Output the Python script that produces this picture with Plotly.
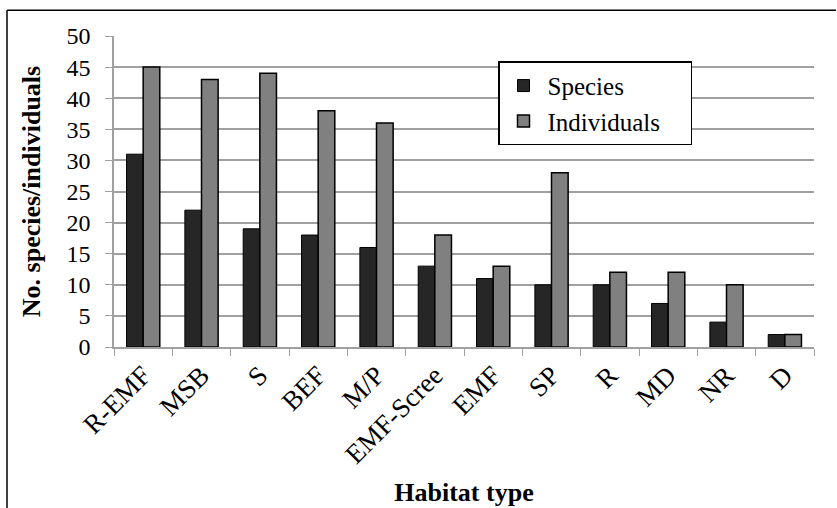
import plotly.graph_objects as go

habitats = ["R-EMF", "MSB", "S", "BEF", "M/P", "EMF-Scree", "EMF", "SP", "R", "MD", "NR", "D"]
species = [31, 22, 19, 18, 16, 13, 11, 10, 10, 7, 4, 2]
individuals = [45, 43, 44, 38, 36, 18, 13, 28, 12, 12, 10, 2]
y_ticks = [0, 5, 10, 15, 20, 25, 30, 35, 40, 45, 50]

W, H = 837, 508
L, R, T, B = 114, 23, 36, 161
pw, ph = W - L - R, H - T - B

fig = go.Figure()
fig.add_trace(go.Bar(x=habitats, y=species, name="Species",
                     marker=dict(color="#262626", line=dict(color="#000000", width=1))))
fig.add_trace(go.Bar(x=habitats, y=individuals, name="Individuals\u00a0\u00a0\u00a0\u00a0",
                     marker=dict(color="#808080", line=dict(color="#000000", width=1.5))))

font = "Liberation Serif, Times New Roman, serif"
fig.update_layout(
    width=W, height=H,
    margin=dict(l=L, r=R, t=T, b=B),
    paper_bgcolor="white", plot_bgcolor="white",
    barmode="group", bargap=0.43, bargroupgap=0,
    font=dict(family=font, size=24, color="black"),
    legend=dict(x=(498 - L) / pw, y=(346.7 - 61) / ph, xanchor="left", yanchor="top",
                bordercolor="black", borderwidth=1.5, bgcolor="white",
                font=dict(size=25, family=font), itemwidth=38,
                tracegroupgap=0),
    xaxis=dict(
        title=dict(text="<b>Habitat type</b>", font=dict(size=26, family=font), standoff=14),
        tickangle=-45, ticks="outside", tickson="boundaries", ticklen=7,
        tickcolor="#A0A0A0", showline=True, linecolor="#A0A0A0", linewidth=1.5,
        tickfont=dict(size=27, family=font), automargin=False,
    ),
    yaxis=dict(
        title=dict(text="<b>No. species/individuals</b>", font=dict(size=26, family=font), standoff=18),
        range=[0, 50], tickvals=y_ticks, ticks="outside", ticklen=7, tickcolor="#A0A0A0",
        showgrid=True, gridcolor="#A0A0A0", gridwidth=1.5,
        showline=True, linecolor="#A0A0A0", linewidth=1.5, zeroline=False,
        tickfont=dict(size=24, family=font), automargin=False, ticklabelstandoff=10,
    ),
)

# outer frame (top and left edges)
x0 = (7 - L) / pw
x1 = (836 - L) / pw
ytop = (346.7 - 10) / ph
ybot = (346.7 - 508) / ph
fig.add_shape(type="line", xref="paper", yref="paper", x0=x0, x1=x1, y0=ytop, y1=ytop,
              line=dict(color="black", width=1.5))
fig.add_shape(type="line", xref="paper", yref="paper", x0=x0, x1=x0, y0=ytop, y1=ybot,
              line=dict(color="black", width=1.5))

fig.write_html("out.html", config={"displayModeBar": False},
               post_script="document.body.style.margin='0';")
